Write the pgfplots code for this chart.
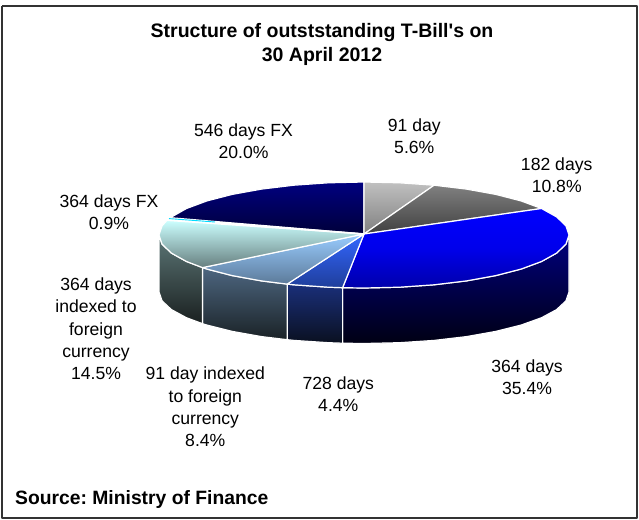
\documentclass[border=0pt]{standalone}
\usepackage{fontspec}
\setmainfont{Liberation Sans}
\newfontfamily\straight{Liberation Sans}
\usepackage{pgfplots}
\pgfplotsset{compat=1.18}
\newcommand{\lbl}[3]{\node[align=center,inner sep=0pt,font=\fontsize{17.6}{22.3}\selectfont,text=black] at (axis cs:#1,#2) {#3};}
\frenchspacing
\begin{document}
\begin{tikzpicture}
\begin{axis}[
  scale only axis, width=639pt, height=519pt,
  xmin=0, xmax=639, ymin=0, ymax=519, y dir=reverse,
  axis lines=none, clip=false, no markers,
  every axis plot/.append style={draw=white, line width=1.2pt, line join=round},
]
\path (axis cs:0,0) -- (axis cs:639,519);
% frame
\addplot[draw=black!80, line width=1.4pt, fill=white] coordinates {(2,6) (637,6) (637,518) (2,518) (2,6)};
% sides
\addplot[top color={rgb,255:red,0;green,0;blue,128}, bottom color={rgb,255:red,0;green,0;blue,20}] coordinates {
(569,235) (565.9,244.2) (556.6,253.1) (541.5,261.5) (521,269.1) (495.8,275.6) (466.5,280.9) (434.1,284.8) (399.6,287.2) (364,288) (342.6,287.7)
(342.6,343.2) (364,343.5) (399.6,342.7) (434.1,340.4) (466.5,336.6) (495.8,331.4) (521,325.1) (541.5,317.75) (556.6,309.6) (565.9,300.9) (569,292) (569,235)};
\addplot[top color={rgb,255:red,26;green,47;blue,122}, bottom color={rgb,255:red,10;green,16;blue,32}] coordinates {
(342.6,287.7) (328.4,287.2) (293.9,284.8) (287.2,284.1)
(287.2,339.7) (293.9,340.4) (328.4,342.7) (342.6,343.2) (342.6,287.7)};
\addplot[top color={rgb,255:red,77;green,102;blue,128}, bottom color={rgb,255:red,26;green,34;blue,38}] coordinates {
(287.2,284.1) (261.5,280.9) (232.2,275.6) (207,269.1) (202.5,267.6)
(202.5,323.7) (207,325.1) (232.2,331.4) (261.5,336.6) (287.2,339.7) (287.2,284.1)};
\addplot[top color={rgb,255:red,92;green,118;blue,118}, bottom color={rgb,255:red,26;green,32;blue,32}] coordinates {
(202.5,267.6) (186.5,261.5) (171.4,253.1) (162.1,244.2) (159,235)
(159,292) (162.1,300.9) (171.4,309.6) (186.5,317.75) (202.5,323.7) (202.5,267.6)};
% top faces
\addplot[top color={rgb,255:red,0;green,0;blue,128}, bottom color={rgb,255:red,0;green,0;blue,58}] coordinates {
(364,234) (170.2,217.7) (186.5,208.5) (207,200.9) (232.2,194.4) (261.5,189.1) (293.9,185.2) (328.4,182.8) (364,182) (364,234)};
\addplot[top color={rgb,255:red,192;green,192;blue,192}, bottom color={rgb,255:red,128;green,128;blue,128}] coordinates {
(364,234) (364,182) (399.6,182.8) (434.1,185.2) (364,234)};
\addplot[top color={rgb,255:red,128;green,128;blue,128}, bottom color={rgb,255:red,64;green,64;blue,64}] coordinates {
(364,234) (434.1,185.2) (466.5,189.1) (495.8,194.4) (521,200.9) (541.5,208.5) (364,234)};
\addplot[top color={rgb,255:red,0;green,0;blue,255}, bottom color={rgb,255:red,0;green,0;blue,170}, middle color={rgb,255:red,0;green,0;blue,235}] coordinates {
(364,234) (541.5,208.5) (556.6,216.9) (565.9,225.8) (569,235) (565.9,244.2) (556.6,253.1) (541.5,261.5) (521,269.1) (495.8,275.6) (466.5,280.9) (434.1,284.8) (399.6,287.2) (364,288) (342.6,287.7) (364,234)};
\addplot[top color={rgb,255:red,51;green,102;blue,255}, bottom color={rgb,255:red,31;green,62;blue,154}] coordinates {
(364,234) (342.6,287.7) (328.4,287.2) (293.9,284.8) (287.2,284.1) (364,234)};
\addplot[top color={rgb,255:red,153;green,204;blue,255}, bottom color={rgb,255:red,92;green,122;blue,153}] coordinates {
(364,234) (287.2,284.1) (261.5,280.9) (232.2,275.6) (207,269.1) (202.5,267.6) (364,234)};
\addplot[top color={rgb,255:red,204;green,255;blue,255}, bottom color={rgb,255:red,102;green,127;blue,127}] coordinates {
(364,234) (202.5,267.6) (186.5,261.5) (171.4,253.1) (162.1,244.2) (159,235) (162.1,225.8) (166.9,220.4) (364,234)};
\addplot[draw=white, line width=1.6pt] coordinates {(168,219) (364,234)};
\addplot[draw={rgb,255:red,0;green,220;blue,255}, line width=0.9pt] coordinates {(169,218.6) (215,222)};
% texts
\node[align=center,inner sep=0pt,font=\straight\bfseries\fontsize{19.5}{24.5}\selectfont] at (axis cs:322,44.5) {Structure of outststanding T-Bill's on\\30 April 2012};
\lbl{243.5}{141}{546 days FX\\20.0\%}
\lbl{414.3}{136.3}{91 day\\5.6\%}
\lbl{556.7}{175}{182 days\\10.8\%}
\lbl{109}{212}{364 days FX\\0.9\%}
\lbl{96}{329}{364 days\\indexed to\\foreign\\currency\\14.5\%}
\lbl{205.3}{407}{91 day indexed\\to foreign\\currency\\8.4\%}
\lbl{338.3}{394.5}{728 days\\4.4\%}
\lbl{527}{377}{364 days\\35.4\%}
\node[anchor=west,inner sep=0pt,font=\bfseries\fontsize{19.3}{20}\selectfont] at (axis cs:15,499.5) {Source: Ministry of Finance};
\end{axis}
\end{tikzpicture}
\end{document}
